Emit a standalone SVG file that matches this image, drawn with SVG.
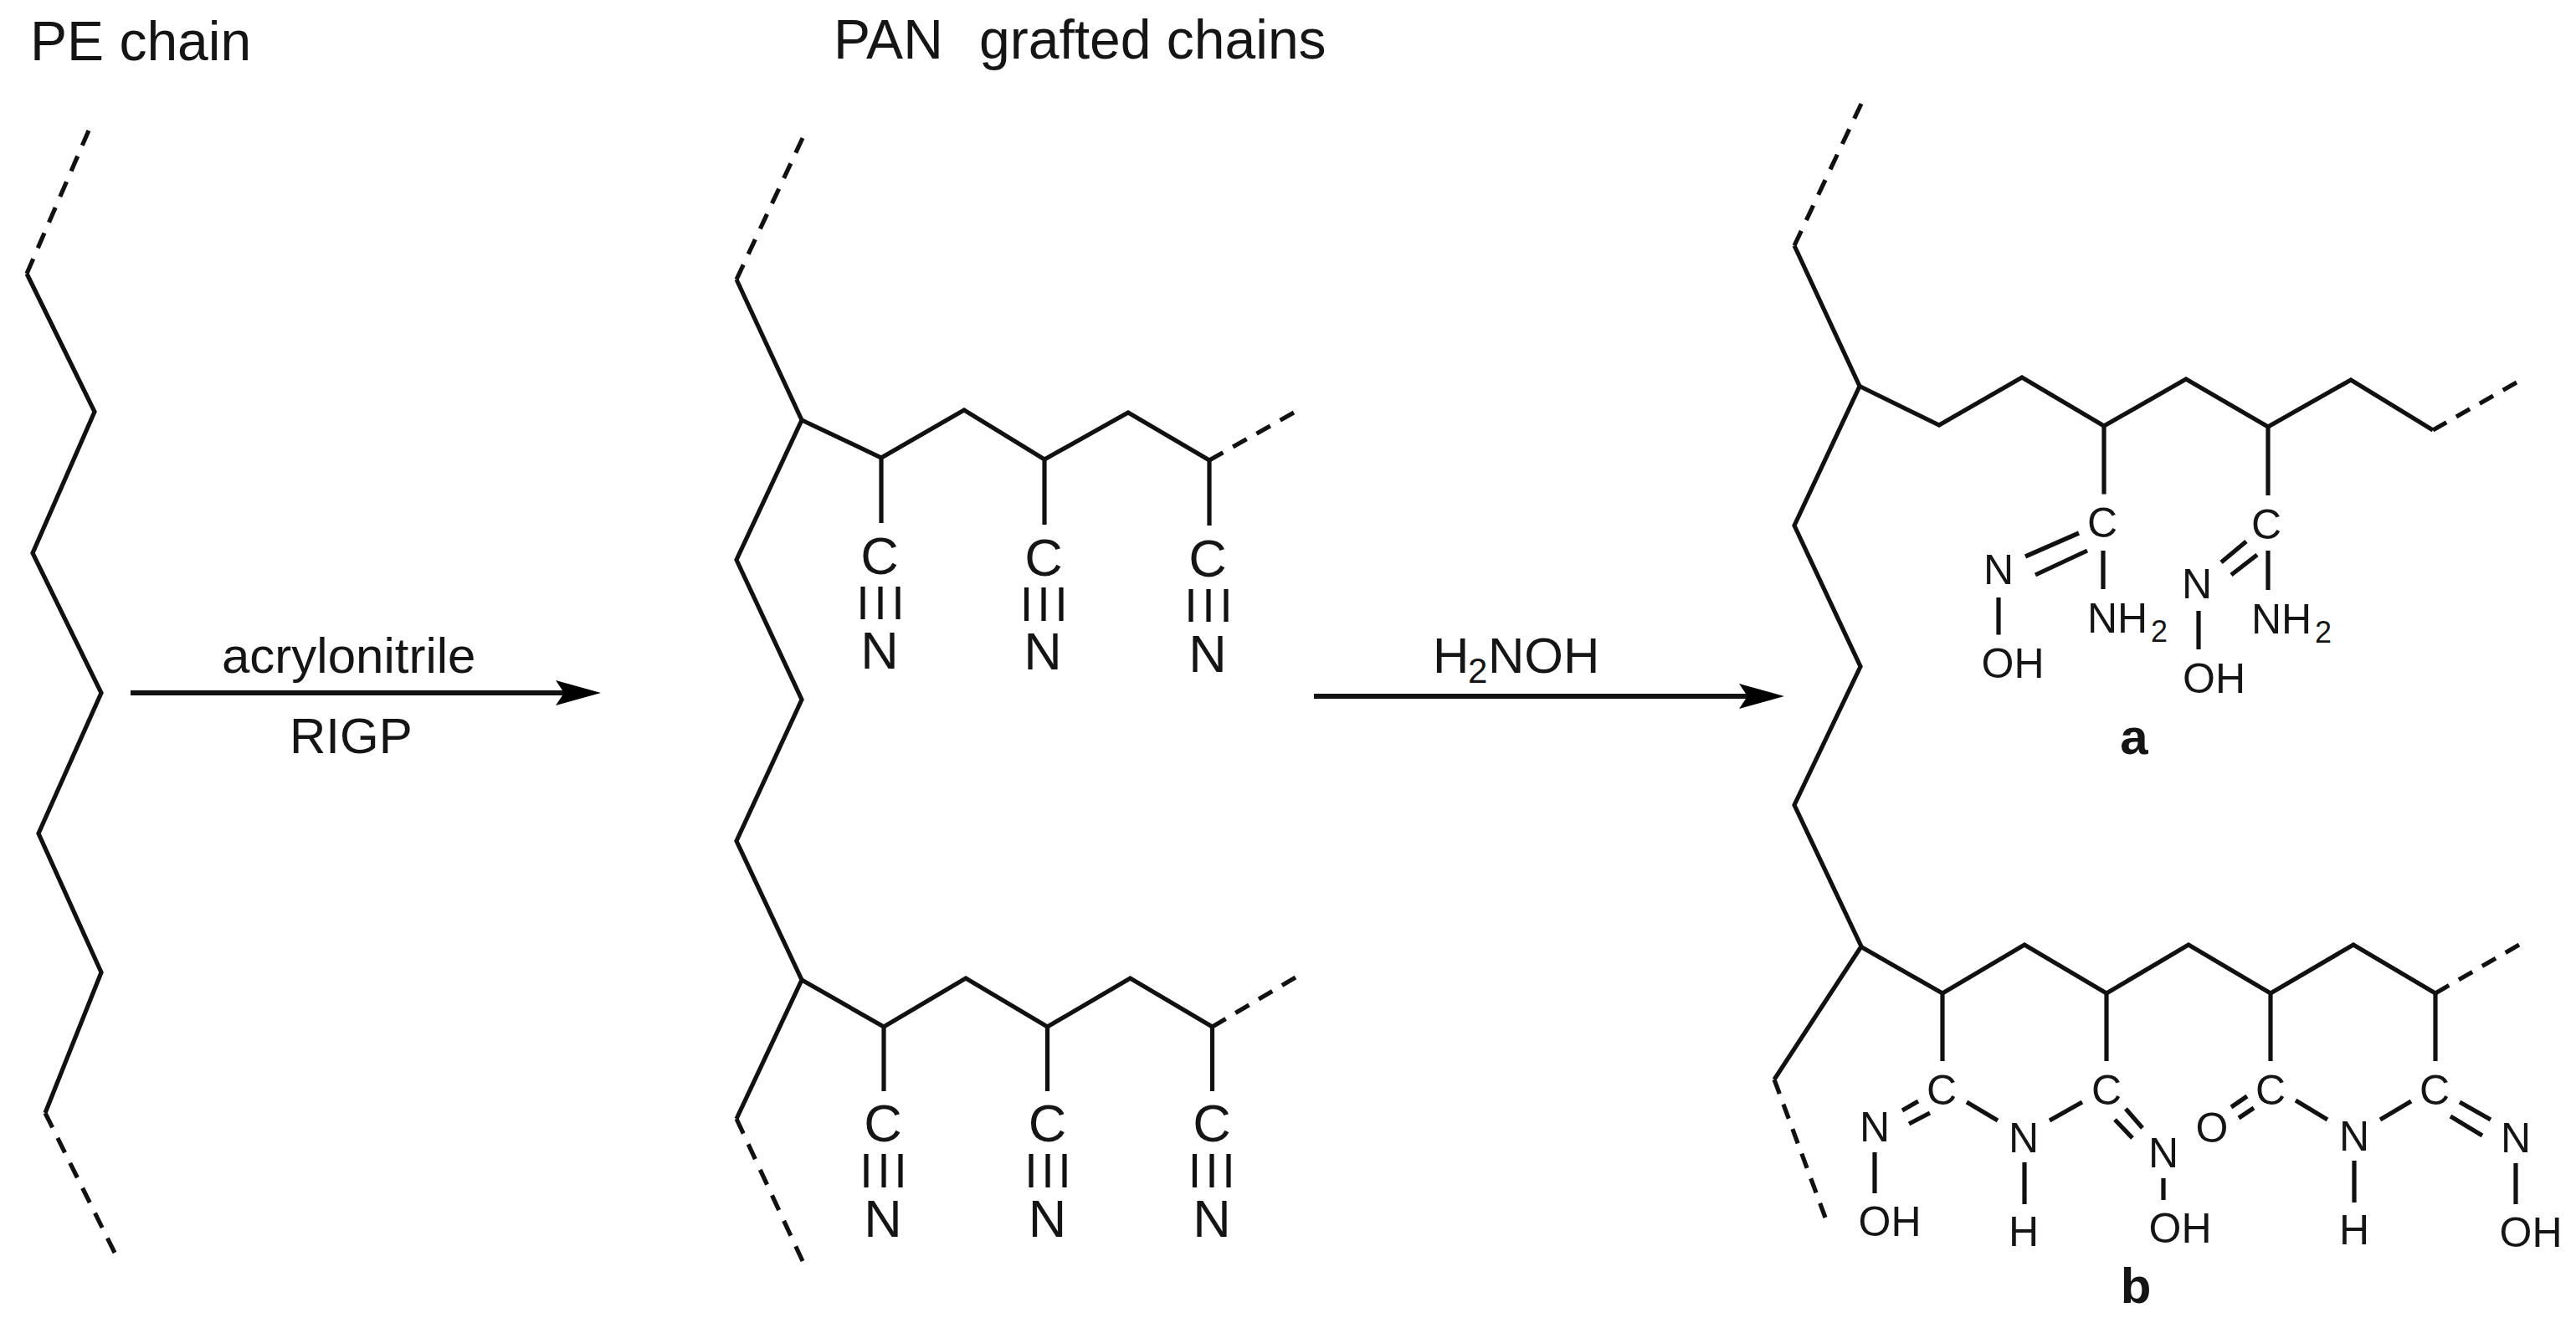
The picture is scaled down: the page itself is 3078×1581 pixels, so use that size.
<svg xmlns="http://www.w3.org/2000/svg" width="3078" height="1581" viewBox="0 0 3078 1581">
<defs>
<style>
.b{fill:none;stroke:#111;stroke-width:5.2;stroke-linejoin:miter}
.d{fill:none;stroke:#111;stroke-width:5.2;stroke-dasharray:18 13}
.a{fill:none;stroke:#111;stroke-width:6}
text{font-family:"Liberation Sans",Arial,sans-serif;fill:#151515}
.h{font-size:66px}
.r{font-size:60px}
.rs{font-size:42px}
.m{font-size:63px;text-anchor:middle}
.s{font-size:50px;text-anchor:middle}
.l{font-size:50px}
.sub{font-size:36px}
.t{font-size:60px;font-weight:bold;text-anchor:middle}
</style>
<marker id="ah" markerUnits="userSpaceOnUse" markerWidth="56" markerHeight="32" refX="12" refY="15" orient="auto">
<path d="M0 0L54 15L0 30L10 15Z" fill="#000"/>
</marker>
</defs>
<rect width="3078" height="1581" fill="#fff"/>
<g id="titles">
<text class="h" x="36" y="72">PE chain</text>
<text class="h" x="996" y="70">PAN<tspan x="1170">grafted chains</tspan></text>
</g>
<g id="pe-chain">
<path class="b" d="M32 327L113 492L39 661L121 828L46 996L121 1162L54 1330"/>
<path class="d" pathLength="173" d="M32 327L106 156"/>
<path class="d" pathLength="173" d="M54 1330L137 1497"/>
</g>
<g id="connectors">
<path class="a" d="M156 828H676" marker-end="url(#ah)"/>
<path class="a" d="M1570 832H2090" marker-end="url(#ah)"/>
</g>
<g id="reaction-labels">
<text class="r" x="265" y="804">acrylonitrile</text>
<text class="r" x="346" y="900">RIGP</text>
<text class="r" x="1712" y="804">H<tspan class="rs" x="1754" dy="12">2</tspan><tspan x="1778" dy="-12">NOH</tspan></text>
</g>
<g id="pan-chains">
<path class="b" d="M880 334L958 502L880 669L958 836L880 1005L958 1171L880 1337"/>
<path class="d" pathLength="173" d="M880 334L959 165"/>
<path class="d" pathLength="173" d="M880 1337L959 1507"/>
<path class="b" d="M958 502L1053 547L1152 490L1248 549L1348 493L1445 550"/>
<path class="d" pathLength="111" d="M1445 550L1546 493"/>
<path class="b" d="M1053 547V625M1248 549V627M1445 550V628"/>
<text class="m" x="1051" y="686">C</text><text class="m" x="1247" y="688">C</text><text class="m" x="1443" y="689">C</text>
<path class="b" d="M1031 701V740M1052 701V740M1073 701V740M1226.500 702V742M1247 702V742M1268 702V742M1423 704V743M1444 704V743M1465 704V743"/>
<text class="m" x="1051" y="799">N</text><text class="m" x="1246" y="800">N</text><text class="m" x="1443" y="803">N</text>
<path class="b" d="M958 1171L1056 1227L1154 1169L1251.500 1227L1350.500 1169L1448.500 1227"/>
<path class="d" pathLength="111" d="M1448.500 1227L1548 1168"/>
<path class="b" d="M1056 1227V1304M1251.500 1227V1304M1448.500 1227V1304"/>
<text class="m" x="1055" y="1364">C</text><text class="m" x="1251.500" y="1364">C</text><text class="m" x="1448" y="1364">C</text>
<path class="b" d="M1035 1379V1419M1056 1379V1419M1076 1379V1419M1232 1379V1419M1252 1379V1419M1272 1379V1419M1427.500 1379V1419M1448 1379V1419M1468 1379V1419"/>
<text class="m" x="1055" y="1478">N</text><text class="m" x="1251.500" y="1478">N</text><text class="m" x="1448" y="1478">N</text>
</g>
<g id="product-a">
<path class="b" d="M2144 293.500L2222 461.500L2144 628L2223 796.500L2144 962L2224 1131L2120 1290"/>
<path class="d" pathLength="173" d="M2144 293.500L2224 124"/>
<path class="b" d="M2222 461.500L2317 508L2416 451L2514 509L2612 453L2710 510L2809 454L2907 514"/>
<path class="d" pathLength="111" d="M2907 514L3007 457"/>
<path class="b" d="M2514 509V590.500M2710 510V592"/>
<text class="s" x="2512" y="642">C</text><text class="s" x="2708" y="644">C</text>
<path class="b" d="M2420 665L2484 637M2432 687L2494 658M2513 658V704M2388 714V758.500"/>
<text class="s" x="2388" y="698">N</text>
<text class="s" x="2405" y="810">OH</text>
<text class="l" x="2494" y="756">NH<tspan class="sub" x="2570" dy="11">2</tspan></text>
<path class="b" d="M2654 672L2684 647M2666 687L2697 663M2710 658V705M2627 730V776"/>
<text class="s" x="2625" y="715">N</text>
<text class="s" x="2645.500" y="828">OH</text>
<text class="l" x="2690" y="757">NH<tspan class="sub" x="2766" dy="11">2</tspan></text>
<text class="t" x="2550" y="901">a</text>
</g>
<g id="product-b">
<path class="d" pathLength="173" d="M2120 1290L2181 1455"/>
<path class="b" d="M2223 1131L2321 1187L2419 1129L2517 1187L2615 1129L2713 1187L2812 1129L2910 1187"/>
<path class="d" pathLength="111" d="M2910 1187L3010 1129"/>
<path class="b" d="M2321 1187V1268M2517 1187V1268M2713 1187V1268M2910 1187V1268"/>
<text class="s" x="2320" y="1320">C</text><text class="s" x="2517" y="1320">C</text><text class="s" x="2713" y="1320">C</text><text class="s" x="2909" y="1320">C</text>
<path class="b" d="M2273 1327L2292 1316M2281 1343L2306 1330M2240 1377V1426"/>
<text class="s" x="2240" y="1364">N</text>
<text class="s" x="2258" y="1477">OH</text>
<path class="b" d="M2350 1317L2387 1339M2419 1389V1439M2449 1339L2488 1317"/>
<text class="s" x="2418" y="1377">N</text>
<text class="s" x="2418" y="1489">H</text>
<path class="b" d="M2540 1325L2560 1348M2527 1338L2548 1360M2585 1408V1434"/>
<text class="s" x="2585" y="1395">N</text>
<text class="s" x="2605" y="1485">OH</text>
<path class="b" d="M2666 1323L2685 1310M2675 1336L2693 1324"/>
<text class="s" x="2643" y="1365">O</text>
<path class="b" d="M2743 1315L2781 1338M2813 1387V1437M2844 1338L2881 1316"/>
<text class="s" x="2813" y="1375">N</text>
<text class="s" x="2813" y="1487">H</text>
<path class="b" d="M2939 1317L2976 1338M2928 1334L2966 1357M3006 1390V1439"/>
<text class="s" x="3006" y="1377">N</text>
<text class="s" x="3024" y="1490">OH</text>
<text class="t" x="2552" y="1557">b</text>
</g>
</svg>
